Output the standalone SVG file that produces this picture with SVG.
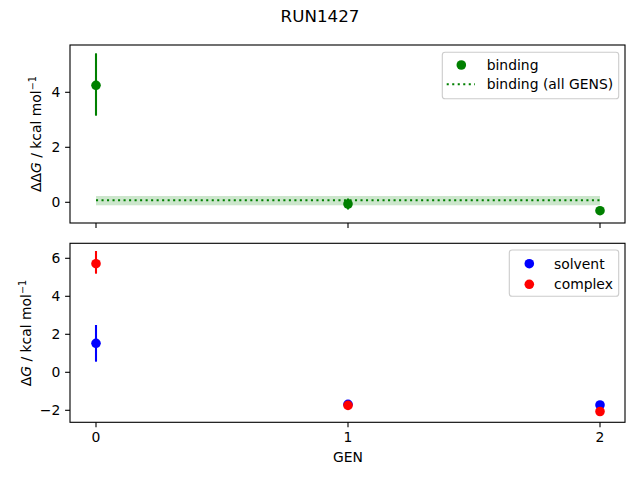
<svg xmlns="http://www.w3.org/2000/svg" width="640" height="480" viewBox="0 0 640 480">
<style>
text{font-family:"DejaVu Sans",sans-serif;font-size:13.9px;fill:#000}
.ax{fill:none;stroke:#000;stroke-width:1.11}
.tk{stroke:#000;stroke-width:1.11}
.yl{text-anchor:end}
.xl{text-anchor:middle}
.leg{fill:#fff;fill-opacity:0.8;stroke:#cccccc;stroke-width:1.11}
.eg{stroke:#008000;stroke-width:2.08}
.er{stroke:#ff0000;stroke-width:2.08}
.eb{stroke:#0000ff;stroke-width:2.08}
circle{r:4.8px}
</style>
<rect width="640" height="480" fill="#fff"/>
<text x="320" y="21.5" text-anchor="middle" style="font-size:16.7px">RUN1427</text>

<g id="top-axes">
<rect x="96" y="196" width="504" height="9.3" fill="#008000" fill-opacity="0.2"/>
<line x1="96" y1="200.3" x2="600" y2="200.3" stroke="#008000" stroke-width="2.08" stroke-dasharray="2.08 3.43"/>
<line class="eg" x1="96" y1="53.3" x2="96" y2="115.7"/>
<circle cx="96" cy="85.3" r="4.8" fill="#008000"/>
<line class="eg" x1="348" y1="198.5" x2="348" y2="209.5"/>
<circle cx="348" cy="204" r="4.8" fill="#008000"/>
<circle cx="600" cy="210.7" r="4.8" fill="#008000"/>
<rect class="ax" x="70" y="45" width="555" height="178"/>
<g class="tk">
<line x1="65.1" y1="202.3" x2="70" y2="202.3"/>
<line x1="65.1" y1="147.3" x2="70" y2="147.3"/>
<line x1="65.1" y1="92.3" x2="70" y2="92.3"/>
<line x1="96" y1="223" x2="96" y2="227.9"/>
<line x1="348" y1="223" x2="348" y2="227.9"/>
<line x1="600" y1="223" x2="600" y2="227.9"/>
</g>
<text class="yl" x="60.3" y="207.3">0</text>
<text class="yl" x="60.3" y="152.3">2</text>
<text class="yl" x="60.3" y="97.3">4</text>
<text transform="translate(40.5,134) rotate(-90)" text-anchor="middle">ΔΔ<tspan font-style="italic">G</tspan> / kcal mol<tspan dy="-5" style="font-size:9.7px">−1</tspan></text>
</g>

<g id="top-legend">
<rect class="leg" x="442.3" y="52.3" width="176.4" height="46.4" rx="2.8"/>
<circle cx="461.3" cy="65" r="4.8" fill="#008000"/>
<line x1="446.7" y1="84.3" x2="475" y2="84.3" stroke="#008000" stroke-width="2.08" stroke-dasharray="2.08 3.43"/>
<text x="486.7" y="70">binding</text>
<text x="486.7" y="89.3">binding (all GENS)</text>
</g>

<g id="bottom-axes">
<line class="er" x1="96" y1="251" x2="96" y2="273.7"/>
<line class="eb" x1="96" y1="325" x2="96" y2="361.7"/>
<circle cx="96" cy="343.3" r="4.8" fill="#0000ff"/>
<circle cx="348" cy="404.3" r="4.8" fill="#0000ff"/>
<circle cx="600" cy="405" r="4.8" fill="#0000ff"/>
<circle cx="96" cy="263.7" r="4.8" fill="#ff0000"/>
<circle cx="348" cy="405.4" r="4.8" fill="#ff0000"/>
<circle cx="600" cy="411.5" r="4.8" fill="#ff0000"/>
<rect class="ax" x="70" y="243.3" width="555" height="179"/>
<g class="tk">
<line x1="65.1" y1="258.3" x2="70" y2="258.3"/>
<line x1="65.1" y1="296.3" x2="70" y2="296.3"/>
<line x1="65.1" y1="334.3" x2="70" y2="334.3"/>
<line x1="65.1" y1="372.3" x2="70" y2="372.3"/>
<line x1="65.1" y1="410.3" x2="70" y2="410.3"/>
<line x1="96" y1="422.3" x2="96" y2="427.2"/>
<line x1="348" y1="422.3" x2="348" y2="427.2"/>
<line x1="600" y1="422.3" x2="600" y2="427.2"/>
</g>
<text class="yl" x="60.3" y="263.3">6</text>
<text class="yl" x="60.3" y="301.3">4</text>
<text class="yl" x="60.3" y="339.3">2</text>
<text class="yl" x="60.3" y="377.3">0</text>
<text class="yl" x="60.3" y="415.3">−2</text>
<text class="xl" x="96" y="441.7">0</text>
<text class="xl" x="348" y="441.7">1</text>
<text class="xl" x="600" y="441.7">2</text>
<text class="xl" x="348" y="462.4">GEN</text>
<text transform="translate(30.5,333) rotate(-90)" text-anchor="middle">Δ<tspan font-style="italic">G</tspan> / kcal mol<tspan dy="-5" style="font-size:9.7px">−1</tspan></text>
</g>

<g id="bottom-legend">
<rect class="leg" x="509.3" y="250" width="109.4" height="46.3" rx="2.8"/>
<circle cx="529.3" cy="263.7" r="4.8" fill="#0000ff"/>
<circle cx="529.3" cy="284.3" r="4.8" fill="#ff0000"/>
<text x="554" y="268.5">solvent</text>
<text x="554" y="289">complex</text>
</g>
</svg>
